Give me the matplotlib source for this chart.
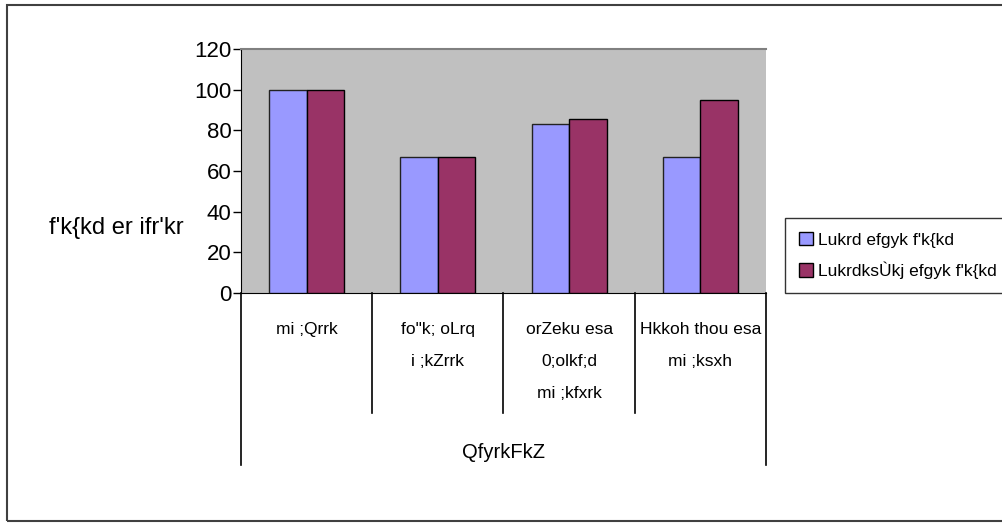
import matplotlib
matplotlib.use("Agg")
import matplotlib.pyplot as plt
from matplotlib.patches import Rectangle, Patch
from matplotlib.transforms import blended_transform_factory
import numpy as np

# ── Data ──────────────────────────────────────────────────────────────────────
categories = [
    "mi ;Qrrk",
    "fo\"k; oLrq\ni ;kZrrk",
    "orZeku esa\n0;olkf;d\nmi ;kfxrk",
    "Hkkoh thou esa\nmi ;ksxh",
]
series_names = ["Lukrd efgyk f'k{kd", "LukrdksÙkj efgyk f'k{kd"]
graduate     = [100, 66.67, 83.33, 66.67]
postgraduate = [100, 66.67, 85.71, 95.0]
yticks       = [0, 20, 40, 60, 80, 100, 120]
ylabel       = "f'k{kd er ifr'kr"
xlabel       = "QfyrkFkZ"

colors = ["#9999FF", "#993366"]
FONT = "Liberation Sans"

W, H = 1003, 524
fig = plt.figure(figsize=(W / 100, H / 100), dpi=100)
fig.patch.set_facecolor("white")

# plot area in pixel coords: left 241, right 766, top 49, bottom 293
ax = fig.add_axes([241 / W, 1 - 293 / H, (766 - 241) / W, (293 - 49) / H])
ax.set_facecolor("#C0C0C0")

x = np.arange(len(categories))
bw = 0.285
ax.bar(x - bw / 2, graduate, width=bw, color=colors[0],
       edgecolor="#222222", linewidth=1, zorder=3)
ax.bar(x + bw / 2, postgraduate, width=bw, color=colors[1],
       edgecolor="black", linewidth=1, zorder=3)

ax.set_xlim(-0.5, len(categories) - 0.5)
ax.set_ylim(0, 120)
ax.set_yticks(yticks)
ax.set_yticklabels([str(v) for v in yticks], family=FONT, fontsize=16)
ax.tick_params(axis="y", direction="out", length=6, width=1, pad=1, colors="black")
ax.set_xticks([])

ax.spines["top"].set_color("#808080")
ax.spines["top"].set_linewidth(1.5)
ax.spines["right"].set_visible(False)
ax.spines["left"].set_color("black")
ax.spines["bottom"].set_color("black")

# ── Multi-level category axis ─────────────────────────────────────────────────
trans = blended_transform_factory(ax.transData, ax.transAxes)
px = 1 / 244  # one pixel in axes-fraction units (vertical)
edges = np.arange(len(categories) + 1) - 0.5
for i, e in enumerate(edges):
    outer = i in (0, len(edges) - 1)
    y_end = -(465 - 293) * px if outer else -(413 - 293) * px
    ax.plot([e, e], [0, y_end], color="black", lw=1.2,
            transform=trans, clip_on=False)

for xi, cat in zip(x, categories):
    ax.text(xi, -(322 - 293) * px, cat, transform=trans, ha="center", va="top",
            family=FONT, fontsize=12.5, linespacing=2.42)

ax.text(1.5, -(453 - 293) * px, xlabel, transform=trans, ha="center",
        va="center", family=FONT, fontsize=14.5)

fig.text(116 / W, 1 - 228 / H, ylabel, ha="center", va="center",
         family=FONT, fontsize=17)

# ── Legend ────────────────────────────────────────────────────────────────────
handles = [Patch(facecolor=c, edgecolor="black", linewidth=1) for c in colors]
leg = fig.legend(handles, series_names, loc="upper left",
                 bbox_to_anchor=(785 / W, 1 - 218 / H), borderaxespad=0,
                 fancybox=False, frameon=True, handlelength=0.8,
                 handleheight=0.8, handletextpad=0.3, labelspacing=0.8,
                 borderpad=0.8, prop=dict(family=FONT, size=12.5))
leg.get_frame().set_edgecolor("black")
leg.get_frame().set_linewidth(1)

# ── Outer chart border ────────────────────────────────────────────────────────
fig.patches.append(Rectangle((7 / W, 3 / H), 1.2, (521 - 5) / H,
                             transform=fig.transFigure, fill=False,
                             edgecolor="#404040", linewidth=1.5))

fig.savefig("out.png", dpi=100, facecolor="white")
